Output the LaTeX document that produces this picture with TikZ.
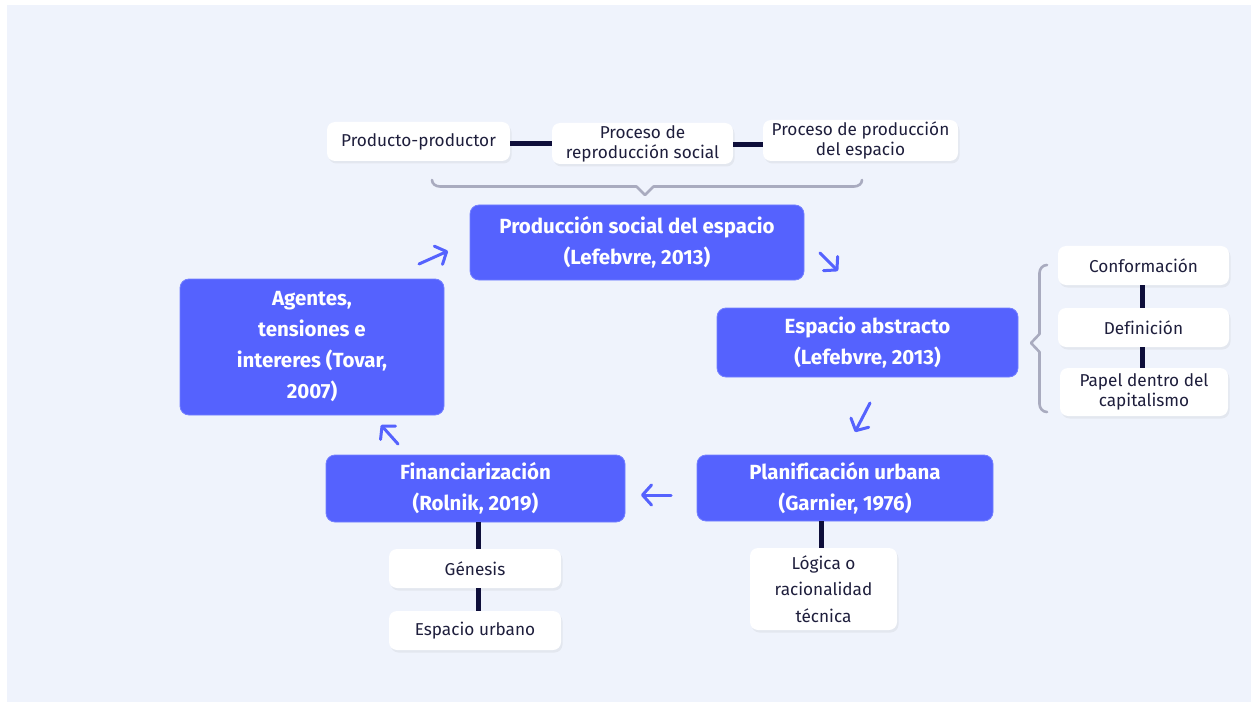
\documentclass[tikz,border=0pt]{standalone}
\usepackage{fontspec}
\setmainfont[Ligatures=CommonOff]{Fira Sans}
\usetikzlibrary{arrows.meta,shadows}

\definecolor{pagebg}{HTML}{EFF3FC}
\definecolor{boxblue}{HTML}{5562FE}
\definecolor{boxedge}{HTML}{7480FF}
\definecolor{inkdark}{HTML}{1E1E3C}
\definecolor{linknavy}{HTML}{0E0E3A}
\definecolor{bracegray}{HTML}{A9ABBF}

\tikzset{
  mainbox/.style={fill=boxblue, draw=boxedge, line width=0.8pt, rounded corners=9pt,
    text=white, align=center, inner sep=0pt,
    font=\fontsize{20.5}{31}\selectfont\bfseries},
  subbox/.style={fill=white, draw=none, rounded corners=8pt, text=inkdark,
    align=center, inner sep=0pt, font=\fontsize{17.2}{20}\selectfont,
    drop shadow={opacity=0.10, shadow xshift=1.5pt, shadow yshift=-2.5pt}},
  link/.style={draw=linknavy, line width=5pt},
  flow/.style={draw=boxblue, line width=3pt, line cap=round,
    -{Straight Barb[length=9pt,width=20pt,line cap=round,line join=round]}},
  brace/.style={draw=bracegray, line width=2.6pt, line join=round, line cap=round},
}

\begin{document}
\begin{tikzpicture}[x=1pt,y=-1pt]
\useasboundingbox (0,0) rectangle (1252,703);
\fill[pagebg] (7,5) rectangle (1251,702);

% top row of concepts
\node[subbox, minimum width=183pt, minimum height=39pt] (pp) at (418.5,141.5) {Producto-productor};
\node[subbox, minimum width=181pt, minimum height=41pt] (rs) at (642.5,143.5) {Proceso de\\reproducción social};
\node[subbox, minimum width=195pt, minimum height=41pt] (pe) at (860.5,140.5) {Proceso de producción\\del espacio};
\draw[link] (pp.east |- 0,144) -- (rs.west |- 0,144);
\draw[link] (rs.east |- 0,145) -- (pe.west |- 0,145);

% bracket gathering the top row
\coordinate (brL) at (432,180);
\coordinate (brM) at (645,195);
\coordinate (brR) at (862,180);
\draw[brace] (brL) to[out=-90,in=180] (440,186.5) -- (636.5,186.5) -- (brM)
  -- (653.5,186.5) -- (854,186.5) to[out=0,in=-90] (brR);

% main cycle
\node[mainbox, minimum width=334pt, minimum height=75pt] (pse) at (637,242.5) {Producción social del espacio\\(Lefebvre, 2013)};
\node[mainbox, minimum width=301pt, minimum height=69pt] (ea) at (867.5,342.5) {Espacio abstracto\\(Lefebvre, 2013)};
\node[mainbox, minimum width=296pt, minimum height=66pt] (pu) at (845,488) {Planificación urbana\\(Garnier, 1976)};
\node[mainbox, minimum width=299pt, minimum height=67pt] (fi) at (475.5,488.5) {Financiarización\\(Rolnik, 2019)};
\node[mainbox, minimum width=264pt, minimum height=136pt] (ag) at (312,347) {Agentes,\\tensiones e\\intereres (Tovar,\\2007)};

% arrows between the stages
\coordinate (a1s) at (419,264); \coordinate (a1e) at (448,251);
\coordinate (a2s) at (820,253); \coordinate (a2e) at (838,271);
\coordinate (a3s) at (870,403); \coordinate (a3e) at (855,432);
\coordinate (a4s) at (671,495); \coordinate (a4e) at (641,495);
\coordinate (a5s) at (398,444); \coordinate (a5e) at (381,425);
\draw[flow] (a1s) -- (a1e);
\draw[flow] (a2s) -- (a2e);
\draw[flow] (a3s) -- (a3e);
\draw[flow] (a4s) -- (a4e);
\draw[flow] (a5s) -- (a5e);

% aspects of abstract space
\node[subbox, minimum width=171pt, minimum height=39pt] (co) at (1143.5,265.5) {Conformación};
\node[subbox, minimum width=171pt, minimum height=39pt] (de) at (1143.5,327.5) {Definición};
\node[subbox, minimum width=168pt, minimum height=48pt] (pc) at (1144,392) {Papel dentro del\\capitalismo};
\draw[link] (co.south -| 1142,0) -- (de.north -| 1142,0);
\draw[link] (de.south -| 1142,0) -- (pc.north -| 1142,0);

\coordinate (rbT) at (1047,265);
\coordinate (rbM) at (1031,343);
\coordinate (rbB) at (1047,412);
\draw[brace] (rbT) to[out=180,in=90] (1039.5,273) -- (1039.5,334) -- (rbM)
  -- (1039.5,352) -- (1039.5,404) to[out=-90,in=180] (rbB);

% planning detail
\node[subbox, minimum width=147pt, minimum height=82pt, font=\fontsize{17.2}{26.5}\selectfont] (lo) at (823.5,589) {Lógica o\\racionalidad\\técnica};
\draw[link] (pu.south -| 821,0) -- (lo.north -| 821,0);

% financialisation detail
\node[subbox, minimum width=172pt, minimum height=39pt] (ge) at (475,568.5) {Génesis};
\node[subbox, minimum width=172pt, minimum height=39pt] (eu) at (475,630.5) {Espacio urbano};
\draw[link] (fi.south -| 478,0) -- (ge.north -| 478,0);
\draw[link] (ge.south -| 478,0) -- (eu.north -| 478,0);
\end{tikzpicture}
\end{document}
